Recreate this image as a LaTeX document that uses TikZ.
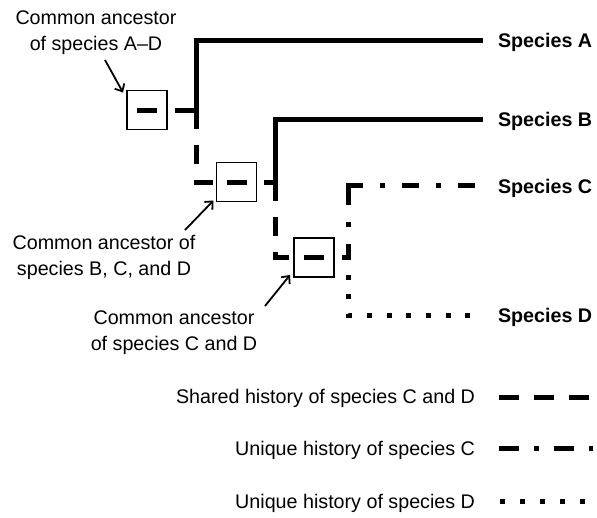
\documentclass[tikz,border=0pt]{standalone}
\usepackage{fontspec}
\setmainfont{Liberation Sans}
\usetikzlibrary{arrows.meta}
\begin{document}
\begin{tikzpicture}[x=1pt,y=-1pt,
  every node/.style={inner sep=0pt, outer sep=0pt},
  lbl/.style={font=\fontsize{19.7}{26}\selectfont, align=center},
  spc/.style={font=\fontsize{19.7}{26}\selectfont\bfseries, anchor=base west},
  anc/.style={draw, line width=1.6pt, minimum width=40pt, minimum height=39pt,
    path picture={\draw[line width=5pt]
      ([xshift=-10pt]path picture bounding box.center) --
      ([xshift=10pt]path picture bounding box.center);}},
  lineage/.style={line width=5pt},
  shared/.style={lineage, dash pattern=on 19pt off 16pt},
  uniqC/.style={lineage, dash pattern=on 17pt off 17pt on 5pt off 17pt},
  uniqD/.style={lineage, dash pattern=on 5pt off 14.7pt},
  pointer/.style={line width=1.8pt, -{Straight Barb[length=6pt,width=11pt,line width=1.8pt]}}
]
\useasboundingbox (0,0) rectangle (597,517);

% ancestor boxes
\node[anc] (ancAD) at (147,110) {};
\node[anc] (ancBD) at (236.5,182) {};
\node[anc] (ancCD) at (314,257.5) {};

% branching points and branch tips
\coordinate (jAD) at (196,110);
\coordinate (jBD) at (275,182);
\coordinate (jCD) at (348,257.5);
\coordinate (cornerC) at (348,185.5);
\coordinate (tipA) at (483,40.5);
\coordinate (tipB) at (483,119);
\coordinate (tipC) at (475,185.5);
\coordinate (tipD) at (472,315);

% species names
\node[spc] (spA) at (498,47.5) {Species A};
\node[spc] (spB) at (498,126) {Species B};
\node[spc] (spC) at (498,193) {Species C};
\node[spc] (spD) at (498,322) {Species D};

% lineages A and B
\draw[lineage] (jAD) |- (tipA);
\draw[lineage] (jBD) |- (tipB);

% shared history down to the C--D ancestor
\draw[shared, dash phase=27pt] (ancAD.east) -- (jAD);
\draw[shared] (jAD) |- (ancBD.west);
\draw[shared, dash phase=28pt] (ancBD.east) -- (jBD);
\draw[shared] (jBD) |- (ancCD.west);
\draw[shared, dash phase=27pt] (ancCD.east) -- (jCD);

% unique histories of C and D
\draw[uniqC, dash phase=3pt] (jCD) -- (cornerC);
\draw[uniqC] ([xshift=-2.5pt]cornerC) -- (tipC);
\draw[uniqD, dash phase=2.5pt] (jCD) |- (tipD);

% ancestor labels and pointers
\node[lbl] (lblAD) at (96,32.5) {Common ancestor\\of species A–D};
\node[lbl] (lblBD) at (104,257) {Common ancestor of\\species B, C, and D};
\node[lbl] (lblCD) at (174,333) {Common ancestor\\of species C and D};
\coordinate (tailAD) at (105,60);
\coordinate (tailBD) at (185,230);
\coordinate (tailCD) at (265,306);
\draw[pointer] (tailAD) -- ([shift={(-4pt,-2pt)}]ancAD.north west);
\draw[pointer] (tailBD) -- ([shift={(-3pt,1pt)}]ancBD.south west);
\draw[pointer] (tailCD) -- ([shift={(-4pt,2pt)}]ancCD.south west);

% legend
\node[lbl, anchor=base east] (legS) at (475,403) {Shared history of species C and D};
\node[lbl, anchor=base east] (legC) at (475,455) {Unique history of species C};
\node[lbl, anchor=base east] (legD) at (475,508) {Unique history of species D};
\coordinate (kS1) at (499,397); \coordinate (kS2) at (589,397);
\coordinate (kC1) at (499,448); \coordinate (kC2) at (593,448);
\coordinate (kD1) at (500,501); \coordinate (kD2) at (585,501);
\draw[lineage, dash pattern=on 20pt off 15pt] (kS1) -- (kS2);
\draw[lineage, dash pattern=on 20pt off 15pt on 5pt off 15pt] (kC1) -- (kC2);
\draw[lineage, dash pattern=on 5pt off 15pt] (kD1) -- (kD2);
\end{tikzpicture}
\end{document}
